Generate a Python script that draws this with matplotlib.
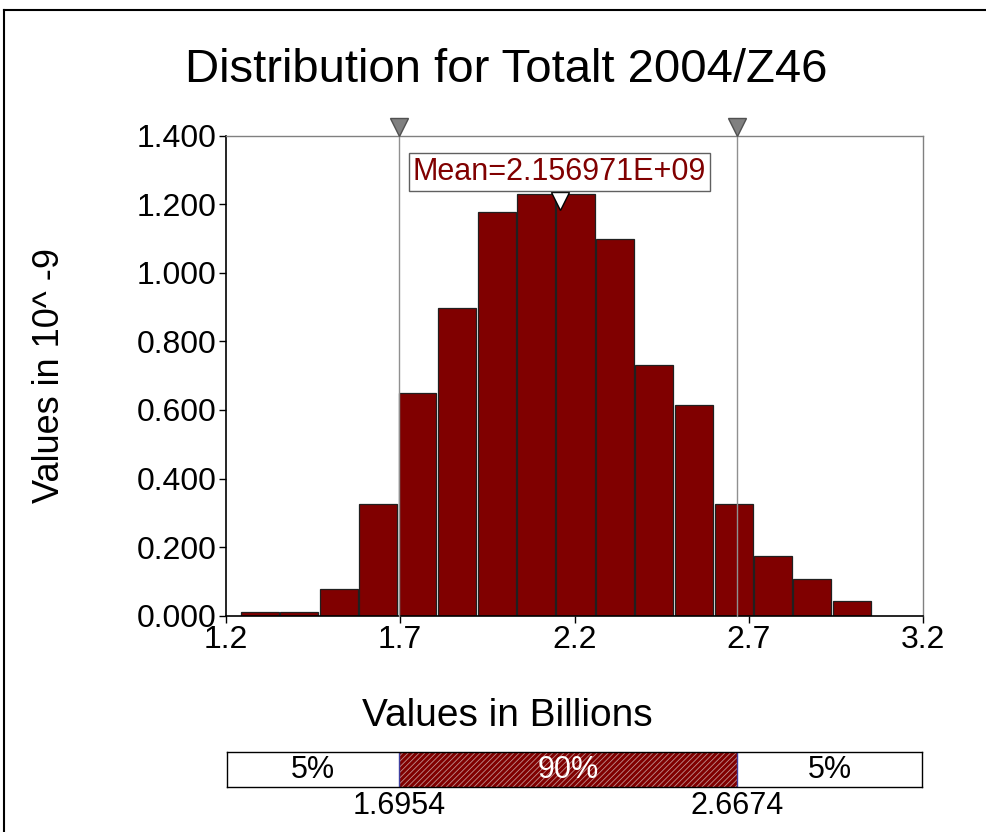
import matplotlib
matplotlib.use('Agg')
import matplotlib.pyplot as plt
from matplotlib.patches import Rectangle
from matplotlib.lines import Line2D

plt.rcParams['font.family'] = ['Liberation Sans', 'DejaVu Sans']
plt.rcParams['hatch.linewidth'] = 0.6

# histogram data (values in billions, density in 10^-9)
bin_edges = [1.242, 1.355, 1.469, 1.582, 1.6954, 1.808, 1.922, 2.035, 2.148,
             2.262, 2.375, 2.488, 2.602, 2.715, 2.828, 2.941, 3.055]
density = [0.010, 0.010, 0.079, 0.325, 0.649, 0.897, 1.178, 1.229,
           1.229, 1.100, 0.731, 0.614, 0.325, 0.175, 0.106, 0.044]
mean_val = 2.156971
p5, p95 = 1.6954, 2.6674
x_ticks = [1.2, 1.7, 2.2, 2.7, 3.2]
y_ticks = [0.0, 0.2, 0.4, 0.6, 0.8, 1.0, 1.2, 1.4]
dark_red = '#800000'

fig = plt.figure(figsize=(9.87, 8.32), dpi=100)

# outer frame (only left/top edges visible in the reference)
fx, fy = 4 / 987, 1 - 10 / 832
fig.add_artist(Line2D([fx, fx], [0, fy], transform=fig.transFigure,
                      color='black', linewidth=1.5))
fig.add_artist(Line2D([fx, 1], [fy, fy], transform=fig.transFigure,
                      color='black', linewidth=1.5))

ax = fig.add_axes([226 / 987, 1 - 615.7 / 832, 697 / 987, 480 / 832])
gap = 0.004
widths = [b - a - gap for a, b in zip(bin_edges[:-1], bin_edges[1:])]
ax.bar(bin_edges[:-1], density, width=widths, align='edge',
       color=dark_red, edgecolor='#202020', linewidth=0.9, zorder=2)

ax.set_xlim(1.2, 3.2)
ax.set_ylim(0, 1.4)
ax.set_xticks(x_ticks)
ax.set_xticklabels([f'{t:.1f}' for t in x_ticks])
ax.set_yticks(y_ticks)
ax.set_yticklabels([f'{t:.3f}' for t in y_ticks])
ax.tick_params(labelsize=23, length=5, width=1, direction='out', pad=2)
for s in ['top', 'right']:
    ax.spines[s].set_color('#808080')
    ax.spines[s].set_linewidth(1)
for s in ['left', 'bottom']:
    ax.spines[s].set_color('black')
    ax.spines[s].set_linewidth(1.2)

# percentile lines and markers
for p in [p5, p95]:
    ax.plot([p, p], [0, 1.42], color='#909090', linewidth=1, zorder=3,
            clip_on=False)
    ax.plot(p, 1.425, marker='v', markersize=13, color='#808080',
            markeredgecolor='#505050', clip_on=False, zorder=4)

# mean marker and label
ax.plot(mean_val, 1.21, marker='v', markersize=13, color='white',
        markeredgecolor='black', markeredgewidth=1, zorder=5)
ax.text(mean_val, 1.294, 'Mean=2.156971E+09', ha='center', va='center',
        fontsize=22, color=dark_red, zorder=6,
        bbox=dict(boxstyle='square,pad=0.12', facecolor='white',
                  edgecolor='#606060', linewidth=1))

fig.text(0.513, 1 - 70 / 832, 'Distribution for Totalt 2004/Z46',
         ha='center', va='center', fontsize=34)
fig.text(50 / 987, 1 - 376 / 832, 'Values in 10^ -9', rotation=90,
         ha='center', va='center', fontsize=26)
fig.text(507 / 987, 1 - 716 / 832, 'Values in Billions',
         ha='center', va='center', fontsize=28)

# percentile band
bx = fig.add_axes([227 / 987, 1 - 787 / 832, 695 / 987, 35 / 832])
bx.set_xlim(1.2, 3.2)
bx.set_ylim(0, 1)
bx.add_patch(Rectangle((1.2, 0), p5 - 1.2, 1, facecolor='white',
                       edgecolor='none'))
bx.add_patch(Rectangle((p5, 0), p95 - p5, 1, facecolor=dark_red,
                       edgecolor='#c09090', hatch='//////', linewidth=0))
bx.plot([p5, p5], [0, 1], color='#4040a0', linewidth=1)
bx.plot([p95, p95], [0, 1], color='#4040a0', linewidth=1)
bx.text((1.2 + p5) / 2, 0.5, '5%', ha='center', va='center', fontsize=22)
bx.text((p5 + p95) / 2, 0.5, '90%', ha='center', va='center', fontsize=22,
        color='white')
bx.text((p95 + 3.2) / 2, 0.5, '5%', ha='center', va='center', fontsize=22)
bx.text(p5, -0.55, f'{p5:.4f}', ha='center', va='center', fontsize=22)
bx.text(p95, -0.55, f'{p95:.4f}', ha='center', va='center', fontsize=22)
bx.set_xticks([])
bx.set_yticks([])
for s in bx.spines.values():
    s.set_color('black')
    s.set_linewidth(1)

fig.savefig('out.png', dpi=100)
